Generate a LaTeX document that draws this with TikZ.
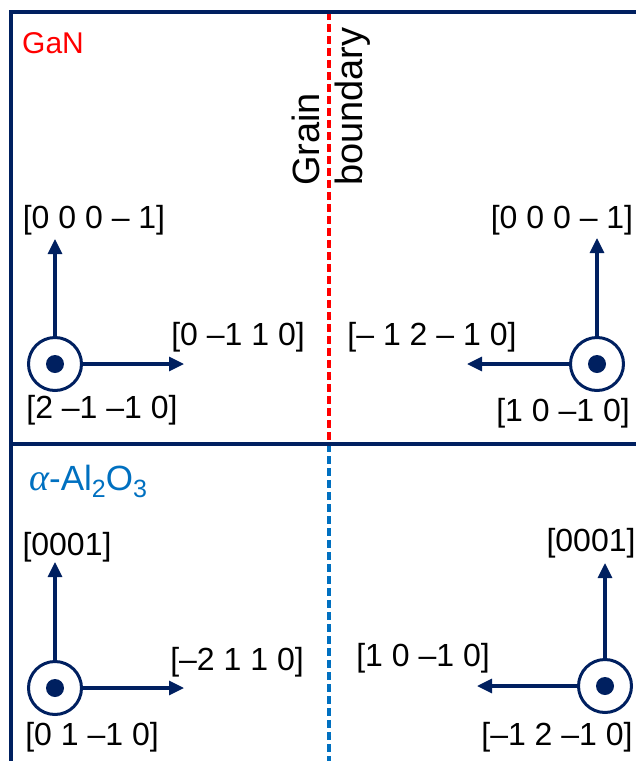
\documentclass[tikz,border=0pt]{standalone}
\usepackage{fontspec}
\setmainfont{Liberation Sans}
\newfontfamily\grkit{Liberation Serif}
\usetikzlibrary{arrows.meta}
\definecolor{navy}{RGB}{0,32,96}
\definecolor{gbred}{RGB}{255,0,0}
\definecolor{gbblue}{RGB}{0,112,192}
\newcommand{\bigsub}[1]{\raisebox{-0.22em}{\fontsize{25}{27}\selectfont #1}}
\begin{document}
\begin{tikzpicture}[x=1pt,y=-1pt,
  lbl/.style={font=\fontsize{32}{38}\selectfont, inner sep=0pt},
  ax/.style={draw=navy, line width=3.2pt, -{Triangle[length=15pt,width=14pt]}},
  zone/.style={circle, draw=navy, line width=3pt, minimum size=53pt, inner sep=0pt},
  frameline/.style={draw=navy, line width=4.5pt},
  gbline/.style={line width=4pt, dash pattern=on 8pt off 4pt},
  gbtext/.style={font=\fontsize{38}{44}\selectfont, rotate=90, anchor=base west, inner sep=0pt},
  phase/.style={font=\fontsize{30}{35}\selectfont, anchor=base west, inner sep=0pt}]
\useasboundingbox (0,0) rectangle (636,761);

% grain boundary
\draw[gbline, gbred] (329,12) -- (329,444);
\draw[gbline, gbblue] (329,444) -- (329,761);

% frame
\draw[frameline] (640,12) -- (11,12) -- (11,765);
\draw[frameline] (11,444) -- (640,444);

% titles
\node[phase, text=gbred] (gan) at (22,53) {GaN};
\node[phase, text=gbblue, font=\fontsize{35}{38}\selectfont] (sap) at (29,490) {{\grkit\itshape\fontsize{38}{40}\selectfont α}-Al\bigsub{2}O\bigsub{3}};
\node[gbtext] (gb1) at (319,186) {Grain};
\node[gbtext] (gb2) at (362,186) {boundary};

% top-left
\node[zone] (c1) at (55,364) {};
\fill[navy] (c1.center) circle (9);
\coordinate (u1) at (55,239);
\coordinate (r1) at (184,364);
\draw[ax] (c1) -- (u1);
\draw[ax] (c1) -- (r1);
\node[lbl] (l1a) at (94,220) {[0 0 0 – 1]};
\node[lbl] (l1b) at (238,337) {[0 –1 1 0]};
\node[lbl] (l1c) at (102,410) {[2 –1 –1 0]};

% top-right
\node[zone] (c2) at (597,364) {};
\fill[navy] (c2.center) circle (9);
\coordinate (u2) at (597,238);
\coordinate (r2) at (467,364);
\draw[ax] (c2) -- (u2);
\draw[ax] (c2) -- (r2);
\node[lbl] (l2a) at (562,220) {[0 0 0 – 1]};
\node[lbl] (l2b) at (432,337) {[– 1 2 – 1 0]};
\node[lbl] (l2c) at (563,413) {[1 0 –1 0]};

% bottom-left
\node[zone] (c3) at (55,688) {};
\fill[navy] (c3.center) circle (9);
\coordinate (u3) at (55,562);
\coordinate (r3) at (184,688);
\draw[ax] (c3) -- (u3);
\draw[ax] (c3) -- (r3);
\node[lbl] (l3a) at (67,547) {[0001]};
\node[lbl] (l3b) at (237,662) {[–2 1 1 0]};
\node[lbl] (l3c) at (92,737) {[0 1 –1 0]};

% bottom-right
\node[zone] (c4) at (605,686) {};
\fill[navy] (c4.center) circle (9);
\coordinate (u4) at (605,563);
\coordinate (r4) at (477,686);
\draw[ax] (c4) -- (u4);
\draw[ax] (c4) -- (r4);
\node[lbl] (l4a) at (591,543) {[0001]};
\node[lbl] (l4b) at (423,658) {[1 0 –1 0]};
\node[lbl] (l4c) at (557,737) {[–1 2 –1 0]};
\end{tikzpicture}
\end{document}
